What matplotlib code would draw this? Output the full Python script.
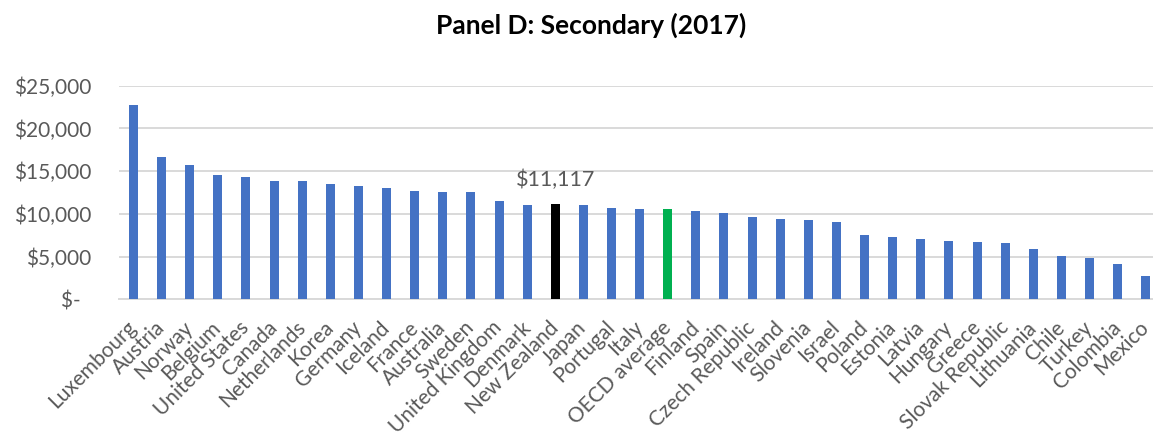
import matplotlib.pyplot as plt
from matplotlib.ticker import FuncFormatter
from matplotlib.transforms import ScaledTranslation

countries = [
    "Luxembourg", "Austria", "Norway", "Belgium", "United States", "Canada",
    "Netherlands", "Korea", "Germany", "Iceland", "France", "Australia",
    "Sweden", "United Kingdom", "Denmark", "New Zealand", "Japan", "Portugal",
    "Italy", "OECD average", "Finland", "Spain", "Czech Republic", "Ireland",
    "Slovenia", "Israel", "Poland", "Estonia", "Latvia", "Hungary", "Greece",
    "Slovak Republic", "Lithuania", "Chile", "Turkey", "Colombia", "Mexico",
]
spending = [
    22700, 16700, 15700, 14550, 14350, 13850,
    13850, 13530, 13260, 13080, 12700, 12600,
    12600, 11530, 11090, 11117, 10990, 10680,
    10540, 10540, 10370, 10100, 9590, 9370,
    9270, 9000, 7520, 7320, 7020, 6820, 6700,
    6580, 5920, 5100, 4800, 4090, 2760,
]
highlight = {"New Zealand": "#000000", "OECD average": "#00B050"}
label_country = "New Zealand"

plt.rcParams["font.family"] = ["Lato", "DejaVu Sans"]
grey = "#595959"

fig = plt.figure(figsize=(11.53, 4.41), dpi=100)
# axes extends a little past the right edge, as in the cropped original
ax = fig.add_axes([0.1035, 0.3213, 0.9025, 0.4844])

colors = [highlight.get(c, "#4472C4") for c in countries]
x = range(len(countries))
ax.bar(x, spending, width=0.32, color=colors, zorder=3)

ax.set_xlim(-0.5, len(countries) - 0.5)
ax.set_ylim(0, 25000)
ax.set_yticks(range(0, 25001, 5000))
ax.yaxis.set_major_formatter(
    FuncFormatter(lambda v, p: "$-  " if v == 0 else f"${v:,.0f}"))
ax.grid(axis="y", color="#d9d9d9", linewidth=1.4, zorder=0)

ax.set_xticks(list(x))
ax.set_xticklabels(countries, rotation=45, ha="right", va="top",
                   rotation_mode="anchor", fontsize=15)
ax.tick_params(axis="both", length=0, labelcolor=grey)
ax.tick_params(axis="y", pad=20, labelsize=15)
ax.tick_params(axis="x", pad=13)

# nudge the rotated names a bit left so they end right under each bar
shift = ScaledTranslation(-0.07, 0, fig.dpi_scale_trans)
for lbl in ax.get_xticklabels():
    lbl.set_transform(lbl.get_transform() + shift)

for side in ["top", "right", "left"]:
    ax.spines[side].set_visible(False)
ax.spines["bottom"].set_color("#d9d9d9")
ax.spines["bottom"].set_linewidth(1.4)

i = countries.index(label_country)
ax.annotate(f"${spending[i]:,}", (i, spending[i]), xytext=(0, 10),
            textcoords="offset points", ha="center", va="bottom",
            fontsize=15.5, color=grey)

fig.text(591 / 1153, 1 - 25 / 441, "Panel D: Secondary (2017)",
         ha="center", va="center", fontsize=19, fontweight="bold")

fig.savefig("out.png", dpi=100)
